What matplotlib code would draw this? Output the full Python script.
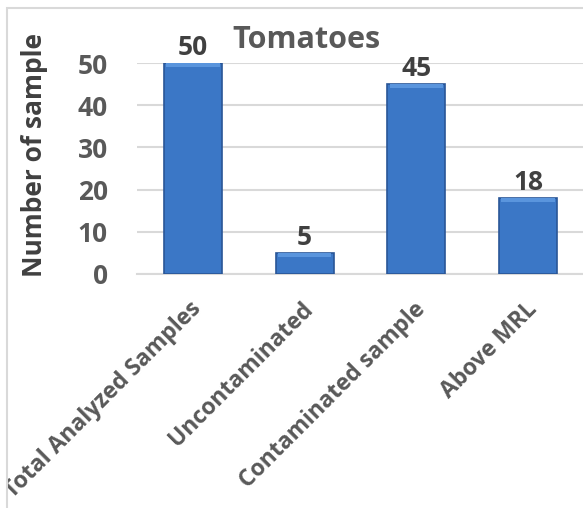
import numpy as np
import matplotlib.pyplot as plt
from matplotlib.patches import Rectangle
from matplotlib.transforms import Bbox

#data
categories = ["Total Analyzed Samples", "Uncontaminated", "Contaminated sample", "Above MRL"]
counts = [50, 5, 45, 18]
yticks = [0, 10, 20, 30, 40, 50]

plt.rcParams['font.family'] = ['Open Sans', 'DejaVu Sans']
W, H = 583, 508
fig = plt.figure(figsize=(W/100, H/100), dpi=100)
ax = fig.add_axes([137/W, 1-274/H, 447/W, 211/H])

x = np.arange(len(categories))
bars = ax.bar(x, counts, width=0.52, color='#3b77c6', edgecolor='#2a5697', linewidth=1.2, zorder=3)
# light strip at the top of each bar (bevel look)
for b in bars:
    ax.add_patch(Rectangle((b.get_x()+0.02, b.get_height()-0.9), b.get_width()-0.04, 0.9,
                           color='#5a95dd', zorder=4, lw=0))

for xi, v in zip(x, counts):
    ax.annotate(str(v), (xi, v), xytext=(0, 6), textcoords='offset points', ha='center', va='baseline',
                fontsize=19, fontweight='bold', color='#404040')

ax.set_xlim(-0.5, len(categories)-0.5)
ax.set_ylim(0, 50)
ax.set_yticks(yticks)
ax.set_yticklabels([str(t) for t in yticks], fontsize=19, fontweight='bold', color='#595959')
ax.yaxis.grid(True, color='#d9d9d9', linewidth=1.5, zorder=0)
ax.tick_params(axis='y', length=0, pad=21)
ax.tick_params(axis='x', length=0)
ax.set_xticks(x)
ax.set_xticklabels([])
for s in ['top', 'right', 'left']:
    ax.spines[s].set_visible(False)
ax.spines['bottom'].set_color('#d9d9d9')
ax.spines['bottom'].set_linewidth(1.5)

# rotated category labels, clipped at the chart border
clip = Bbox.from_extents(8, 0, W, H-8)
for xi, c in zip(x, categories):
    t = ax.text(xi-0.03, -5.5, c, rotation=45, ha='right', va='top', rotation_mode='anchor',
                fontsize=16.5, fontweight='bold', color='#595959', transform=ax.transData)
    t.set_clip_box(clip)
    t.set_clip_on(True)

fig.text(306/W, 1-48/H, "Tomatoes", ha='center', va='baseline', fontsize=22, fontweight='bold', color='#595959')
fig.text(35/W, 1-155/H, "Number of sample", rotation=90, ha='center', va='center',
         fontsize=19, fontweight='bold', color='#404040')

# chart border (cropped at the right and bottom)
fig.patches.append(Rectangle((7/W, -0.1), 1.2, 1-8/H+0.1, transform=fig.transFigure,
                             fill=False, edgecolor='#d9d9d9', linewidth=1.5))

fig.savefig("out.png", dpi=100)
